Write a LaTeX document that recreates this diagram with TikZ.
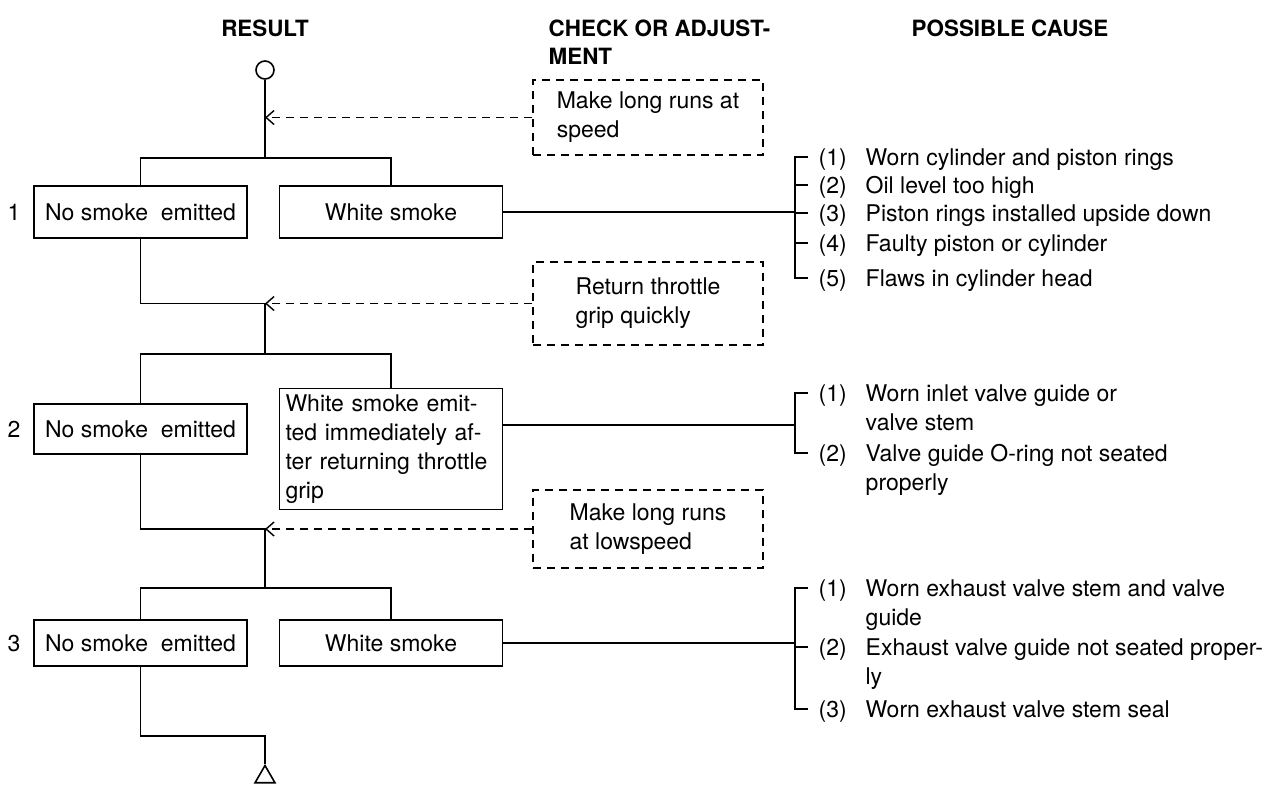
\documentclass[tikz,border=0pt]{standalone}
\usepackage{fontspec}
\setmainfont{TeX Gyre Heros}
\usetikzlibrary{positioning,arrows.meta,shapes.geometric}

\newcommand{\cnum}[1]{\makebox[23.5pt][l]{(#1)}}
\newcommand{\cind}{\hspace*{23.5pt}}

\begin{document}
\begin{tikzpicture}[
    x=0.5pt, y=-0.5pt,
    font=\fontsize{11.5}{14.5}\selectfont,
    line width=0.7pt,
    every node/.style={align=left},
    res/.style={rectangle, draw, line width=0.8pt, minimum height=26pt, inner sep=3pt},
    nores/.style={res, minimum width=106.5pt},
    whiteres/.style={res, minimum width=111.5pt},
    chk/.style={rectangle, draw, line width=0.7pt, dash pattern=on 4pt off 3pt, minimum width=115pt, inner sep=3pt},
    hdr/.style={font=\fontsize{11.2}{14}\selectfont\bfseries, inner sep=0pt},
    cause/.style={anchor=north west, inner sep=0pt},
    tick/.style={shift={(-5pt,-4.5pt)}},
    arr/.style={dash pattern=on 4pt off 3pt, -{Straight Barb[length=4pt, width=7pt]}}
]
\useasboundingbox (0,0) rectangle (1262,789);

% column heads
\node[hdr] (hres) at (265,28) {RESULT};
\node[hdr, anchor=west] (hchk) at (548,42) {CHECK OR ADJUST-\\MENT};
\node[hdr] (hcau) at (1010,28) {POSSIBLE CAUSE};

\node[circle, draw, line width=0.8pt, minimum size=9pt, inner sep=0pt] (start) at (265,70) {};
\node[regular polygon, regular polygon sides=3, draw, line width=0.8pt, minimum size=11.5pt, inner sep=0pt] (stop) at (265,777) {};

% results
\node (n1) at (14,212) {1};
\node[nores] (ns1) at (140.5,212) {No smoke\ \ emitted};
\node[whiteres] (ws1) at (391,212) {White smoke};

\node (n2) at (14,429) {2};
\node[nores, minimum height=25pt] (ns2) at (140.5,429) {No smoke\ \ emitted};
\node[whiteres, text width=105.5pt] (ws2) at (391,449) {White smoke emit-\\ted immediately af-\\ter returning throttle\\grip};

\node (n3) at (14,643) {3};
\node[nores, minimum height=23pt] (ns3) at (140.5,643) {No smoke\ \ emitted};
\node[whiteres, minimum height=23pt] (ws3) at (391,643) {White smoke};

% checks
\node[chk, minimum height=37.5pt] (chk1) at (648,117.5) {Make long runs at\\speed};
\node[chk, minimum height=41.5pt] (chk2) at (648,303.5) {Return throttle\\grip quickly};
\node[chk, minimum height=39pt] (chk3) at (648,529) {Make long runs\\at lowspeed};

% trunk
\coordinate (a1) at (265,158);
\coordinate (b1) at (265,303.5);
\coordinate (a2) at (265,354);
\coordinate (b2) at (265,529);
\coordinate (a3) at (265,588);
\coordinate (b3) at (265,736);

\draw (start.south) -- (a1);
\draw (ns1.north) |- (a1) -| (ws1.north);
\draw (ns1.south) |- (b1) -- (a2);
\draw (ns2.north) |- (a2) -| (ws2.north);
\draw (ns2.south) |- (b2) -- (a3);
\draw (ns3.north) |- (a3) -| (ws3.north);
\draw (ns3.south) |- (b3) -- (stop.north);

\draw[arr] (chk1.west) -- (start |- chk1.west);
\draw[arr] (chk2.west) -- (b1);
\draw[arr] (chk3.west) -- (b2);

% causes 1
\node[cause] (c11) at (818,148) {\cnum{1}Worn cylinder and piston rings};
\node[cause] (c12) at (818,176) {\cnum{2}Oil level too high};
\node[cause] (c13) at (818,204) {\cnum{3}Piston rings installed upside down};
\node[cause] (c14) at (818,234) {\cnum{4}Faulty piston or cylinder};
\node[cause] (c15) at (818,269) {\cnum{5}Flaws in cylinder head};

\coordinate (br1) at (795,212);
\draw (ws1.east) -- (br1);
\draw ([tick]c11.north west) -| (br1) |- ([tick]c15.north west);
\draw ([tick]c12.north west) -- +(-13,0);
\draw ([tick]c13.north west) -- +(-13,0);
\draw ([tick]c14.north west) -- +(-13,0);

% causes 2
\node[cause] (c21) at (818,384) {\cnum{1}Worn inlet valve guide or\\\cind valve stem};
\node[cause] (c22) at (818,444) {\cnum{2}Valve guide O-ring not seated\\\cind properly};

\coordinate (br2) at (795,425);
\draw (ws2.east |- br2) -- (br2);
\draw ([tick]c21.north west) -| (br2) |- ([tick]c22.north west);

% causes 3
\node[cause] (c31) at (818,579) {\cnum{1}Worn exhaust valve stem and valve\\\cind guide};
\node[cause] (c32) at (818,638) {\cnum{2}Exhaust valve guide not seated proper-\\\cind ly};
\node[cause] (c33) at (818,700) {\cnum{3}Worn exhaust valve stem seal};

\coordinate (br3) at (795,643);
\draw (ws3.east) -- (br3);
\draw ([tick]c31.north west) -| (br3) |- ([tick]c33.north west);
\draw ([tick]c32.north west) -- +(-13,0);

\end{tikzpicture}
\end{document}
